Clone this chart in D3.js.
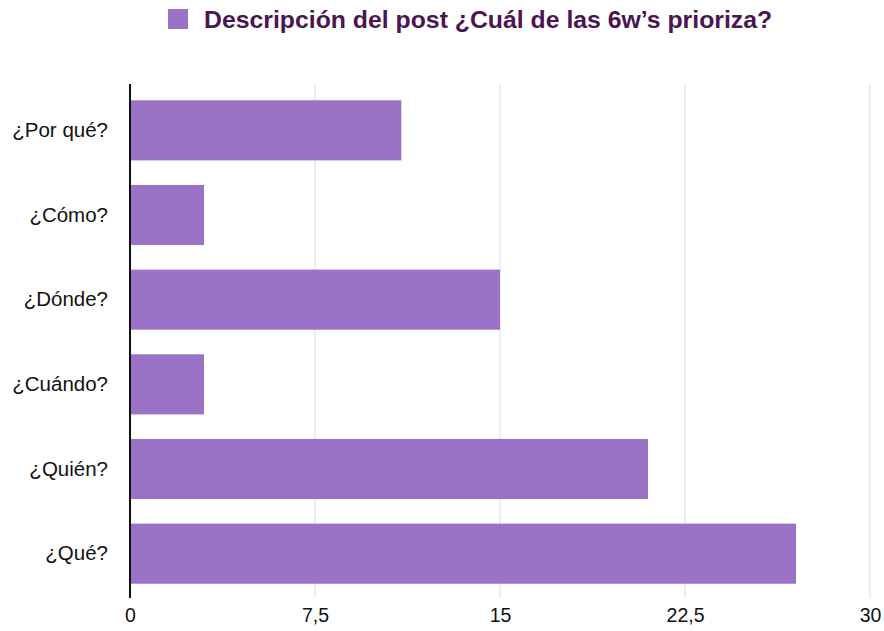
<!DOCTYPE html>
<html>
<head>
<meta charset="utf-8">
<script src="https://cdn.jsdelivr.net/npm/d3@7"></script>
<style>
body { margin: 0; background: #fff; }
text { font-family: "Liberation Sans", Arial, sans-serif; }
</style>
</head>
<body>
<div id="chart"></div>
<script>
var categories = ['¿Por qué?', '¿Cómo?', '¿Dónde?', '¿Cuándo?', '¿Quién?', '¿Qué?'];
var values = [11, 3, 15, 3, 21, 27];
var tickValues = [0, 7.5, 15, 22.5, 30];
var seriesName = 'Descripción del post ¿Cuál de las 6w’s prioriza?';

var width = 884;
var height = 631;
var barColor = '#9a72c6';

var svg = d3.select('#chart')
	.append('svg')
	.attr('width', width)
	.attr('height', height);

var x = d3.scaleLinear()
	.domain([0, 30])
	.range([130, 870]);

var y = d3.scaleBand()
	.domain(categories)
	.range([88, 596])
	.paddingInner(0.29)
	.paddingOuter(0.145);

// gridlines
svg.selectAll('.grid')
	.data(tickValues.slice(1))
	.enter()
	.append('line')
	.attr('x1', function(d){ return x(d); })
	.attr('x2', function(d){ return x(d); })
	.attr('y1', 84)
	.attr('y2', 598)
	.attr('stroke', '#dcdcdc')
	.attr('stroke-width', 1);

svg.selectAll('.bar')
	.data(values)
	.enter()
	.append('rect')
	.attr('x', x(0))
	.attr('y', function(d, i){ return y(categories[i]); })
	.attr('width', function(d){ return x(d) - x(0); })
	.attr('height', y.bandwidth())
	.attr('fill', barColor);

// axis line
svg.append('line')
	.attr('x1', x(0))
	.attr('x2', x(0))
	.attr('y1', 84)
	.attr('y2', 598)
	.attr('stroke', '#111')
	.attr('stroke-width', 2);

var xAxis = svg.append('g')
	.attr('transform', 'translate(0,598)')
	.call(d3.axisBottom(x)
		.tickValues(tickValues)
		.tickSize(0)
		.tickPadding(10)
		.tickFormat(function(d){ return String(d).replace('.', ','); }));
xAxis.select('.domain').remove();
xAxis.selectAll('text')
	.attr('font-size', 19.5)
	.attr('fill', '#111')
	.style('font-family', '"Liberation Sans", Arial, sans-serif');

var yAxis = svg.append('g')
	.attr('transform', 'translate(' + x(0) + ',0)')
	.call(d3.axisLeft(y).tickSize(0).tickPadding(22));
yAxis.select('.domain').remove();
yAxis.selectAll('text')
	.attr('font-size', 20.5)
	.attr('fill', '#111')
	.style('font-family', '"Liberation Sans", Arial, sans-serif');

// legend
var legend = svg.append('g');
legend.append('rect')
	.attr('x', 168)
	.attr('y', 9)
	.attr('width', 20)
	.attr('height', 20)
	.attr('fill', barColor);
legend.append('text')
	.attr('x', 204)
	.attr('y', 28)
	.attr('font-size', 24.8)
	.attr('font-weight', 'bold')
	.attr('fill', '#4b1550')
	.text(seriesName);
</script>
</body>
</html>
